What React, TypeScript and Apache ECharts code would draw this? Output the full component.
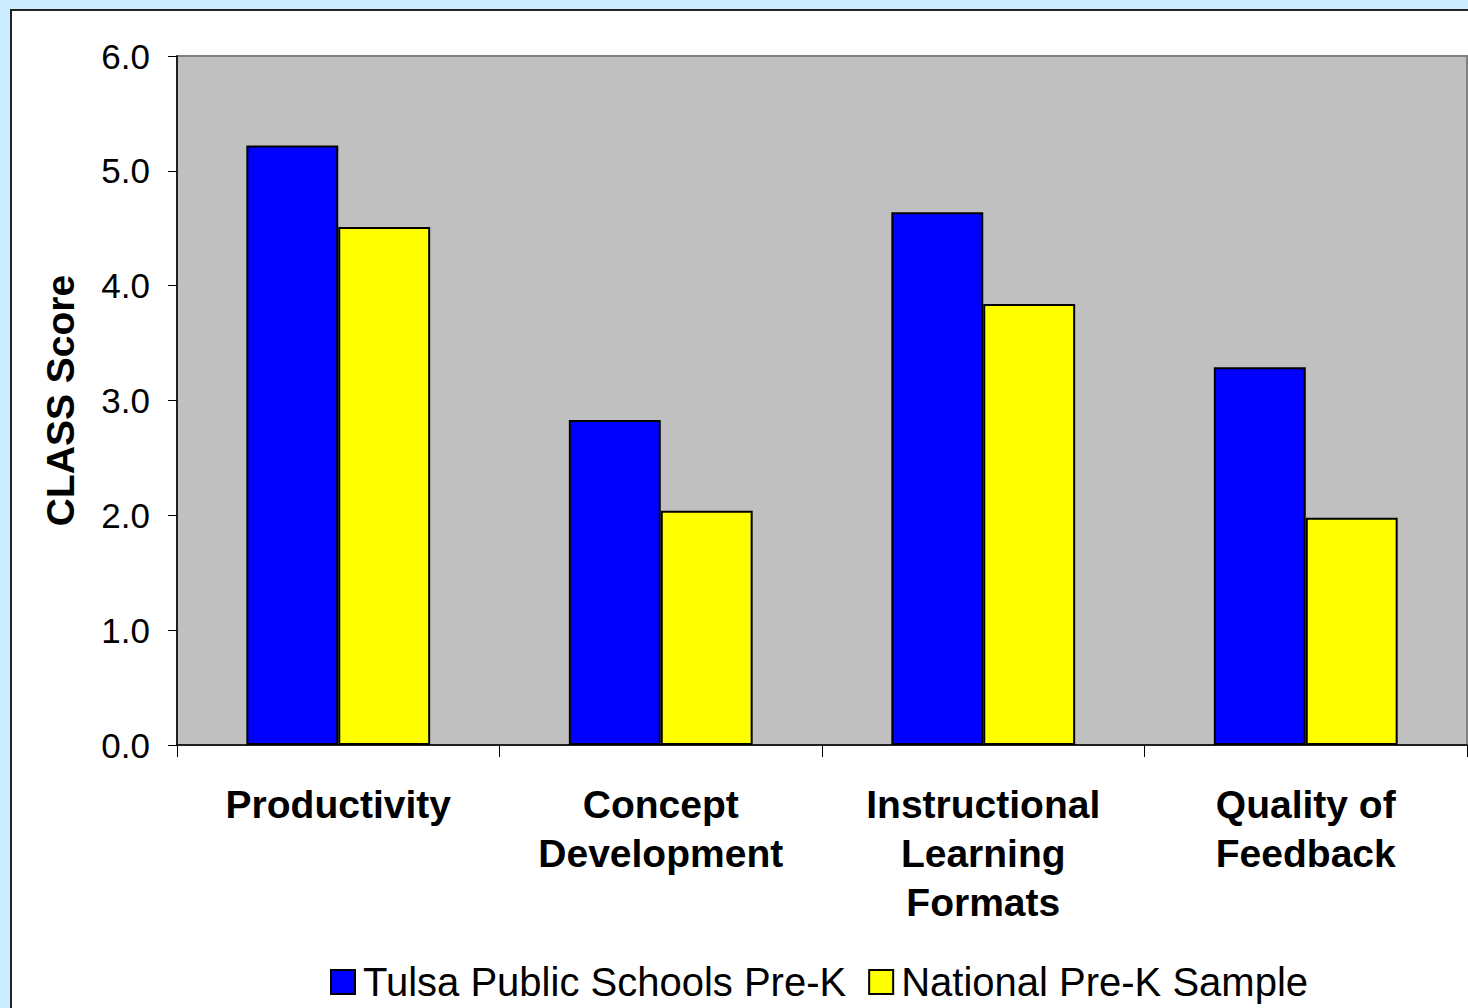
import React, { useEffect, useRef } from "react";
import * as echarts from "echarts";

const categories = ["Productivity", "Concept\nDevelopment", "Instructional\nLearning\nFormats", "Quality of\nFeedback"];
const tulsa = [5.22, 2.83, 4.64, 3.29];
const national = [4.51, 2.04, 3.84, 1.98];
const seriesNames = ["Tulsa Public Schools Pre-K", "National Pre-K Sample"];

export default function App() {
  const ref = useRef<HTMLDivElement>(null);
  useEffect(() => {
    if (!ref.current) return;
    const chart = echarts.init(ref.current, undefined, { renderer: "svg" });
    const font = "Liberation Sans, Arial, sans-serif";
    chart.setOption({
      animation: false,
      backgroundColor: "#CCECFF",
      graphic: [
        {
          type: "rect",
          z: -10,
          shape: { x: 11, y: 10, width: 1500, height: 1100 },
          style: { fill: "#FFFFFF", stroke: "#222222", lineWidth: 2 },
        },
      ],
      legend: {
        left: 325,
        top: 957,
        itemWidth: 24,
        itemHeight: 24,
        itemGap: 22,
        icon: "rect",
        textStyle: { fontFamily: font, fontSize: 40, color: "#000", padding: [0, 0, 0, 3] },
        data: seriesNames,
      },
      grid: {
        left: 177,
        right: 1,
        top: 56,
        bottom: 263,
        show: true,
        backgroundColor: "#C0C0C0",
        borderColor: "#808080",
        borderWidth: 2,
      },
      xAxis: {
        type: "category",
        data: categories,
        axisLine: { lineStyle: { color: "#000", width: 1.5 } },
        axisTick: { show: true, length: 12, lineStyle: { color: "#000" } },
        axisLabel: {
          fontFamily: font,
          fontSize: 39,
          fontWeight: "bold",
          color: "#000",
          lineHeight: 49,
          margin: 35,
          interval: 0,
        },
      },
      yAxis: {
        type: "value",
        min: 0,
        max: 6,
        interval: 1,
        name: "CLASS Score",
        nameLocation: "middle",
        nameGap: 97,
        nameTextStyle: { fontFamily: font, fontSize: 39, fontWeight: "bold", color: "#000" },
        axisLine: { show: true, lineStyle: { color: "#000", width: 1.5 } },
        axisTick: { show: true, length: 9, lineStyle: { color: "#000" } },
        splitLine: { show: false },
        axisLabel: {
          fontFamily: font,
          fontSize: 35,
          color: "#000",
          margin: 27,
          formatter: (v: number) => v.toFixed(1),
        },
      },
      series: [
        {
          name: seriesNames[0],
          type: "bar",
          data: tulsa,
          barGap: "0%",
          barCategoryGap: "43%",
          itemStyle: { color: "#0000FF", borderColor: "#000", borderWidth: 2 },
        },
        {
          name: seriesNames[1],
          type: "bar",
          data: national,
          itemStyle: { color: "#FFFF00", borderColor: "#000", borderWidth: 2 },
        },
      ],
    });
    return () => chart.dispose();
  }, []);
  return <div ref={ref} style={{ position: "absolute", left: 0, top: 0, width: 1468, height: 1008 }} />;
}
